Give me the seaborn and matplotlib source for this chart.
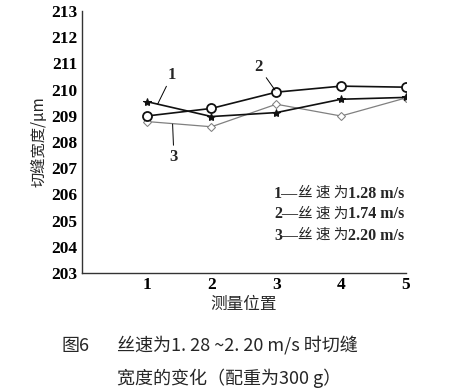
import matplotlib
matplotlib.use('Agg')
import matplotlib.pyplot as plt
import seaborn as sns
import pandas as pd

# measured kerf width (um) at 5 positions, for 3 wire speeds
positions = [1, 2, 3, 4, 5]
width_128 = [209.54, 208.97, 209.12, 209.63, 209.70]
width_174 = [208.99, 209.28, 209.90, 210.13, 210.09]
width_220 = [208.78, 208.58, 209.44, 208.99, 209.68]
speed_labels = ['1.28 m/s', '1.74 m/s', '2.20 m/s']
y_ticks = [203, 204, 205, 206, 207, 208, 209, 210, 211, 212, 213]

sns.set_style('white')
plt.rcParams['font.family'] = ['Liberation Serif', 'Noto Sans CJK SC']
cjk = 'Noto Sans CJK SC'
num = 'Liberation Serif'

df = pd.DataFrame({
    'pos': positions * 3,
    'width': width_128 + width_174 + width_220,
    'series': ['1'] * 5 + ['2'] * 5 + ['3'] * 5,
})

fig = plt.figure(figsize=(4.55, 3.9), dpi=100)
ax = fig.add_axes([0.180, 0.300, 0.712, 0.672])

styles = {
    '1': dict(color='#111111', marker='*', markersize=6, linewidth=1.2,
              markerfacecolor='#111111', markeredgecolor='#111111'),
    '2': dict(color='#111111', marker='o', markersize=6.5, linewidth=1.2,
              markerfacecolor='white', markeredgecolor='#111111', markeredgewidth=1.3),
    '3': dict(color='#808080', marker='D', markersize=4.5, linewidth=0.9,
              markerfacecolor='white', markeredgecolor='#808080'),
}
for key in ['3', '1', '2']:
    sub = df[df['series'] == key]
    sns.lineplot(data=sub, x='pos', y='width', ax=ax, legend=False, **styles[key])

ax.set_xlim(0, 5)
ax.set_ylim(203, 213)
ax.set_xticks(positions)
ax.set_yticks(y_ticks)
ax.set_xticklabels([str(p) for p in positions], fontfamily=num, fontweight='bold', fontsize=12.5)
ax.set_yticklabels([str(t) for t in y_ticks], fontfamily=num, fontweight='bold', fontsize=12.5)
ax.tick_params(axis='both', direction='in', length=3.5, width=0.8, colors='#444444',
               labelcolor='black', pad=3)
for s in ['top', 'right']:
    ax.spines[s].set_visible(False)
for s in ['left', 'bottom']:
    ax.spines[s].set_color('#333333')
    ax.spines[s].set_linewidth(1.0)

ax.set_xlabel('测量位置', fontfamily=cjk, fontsize=12, labelpad=2)
ax.set_ylabel('切缝宽度/μm', fontfamily=[cjk, 'DejaVu Sans'], fontsize=11, labelpad=3)

# curve labels with leader lines
lead = dict(arrowstyle='-', color='black', lw=0.7, shrinkA=0, shrinkB=0)
ax.annotate('1', xy=(1.17, 209.45), xytext=(1.39, 210.25), fontfamily=num, fontweight='bold',
            fontsize=12, ha='center', va='bottom', arrowprops=lead)
ax.annotate('2', xy=(2.98, 209.98), xytext=(2.73, 210.55), fontfamily=num, fontweight='bold',
            fontsize=12, ha='center', va='bottom', arrowprops=lead)
ax.annotate('3', xy=(1.40, 208.68), xytext=(1.42, 207.75), fontfamily=num, fontweight='bold',
            fontsize=12, ha='center', va='top', arrowprops=lead)

# legend as text: "n—丝速为x.xx m/s"
leg_y = [205.85, 205.08, 204.25]
for i, (lab, yy) in enumerate(zip(speed_labels, leg_y)):
    t1 = ax.text(4.98, yy, lab, fontfamily=num, fontweight='bold', fontsize=11.5,
                 ha='right', va='baseline')
    t2 = ax.annotate('丝 速 为', xy=(0, 0), xycoords=t1, xytext=(0, 1.5),
                     textcoords='offset points', fontfamily=cjk, fontsize=10.5,
                     ha='right', va='bottom')
    ax.annotate(f'{i + 1}—', xy=(0, 0), xycoords=t2, xytext=(0, -1.5),
                textcoords='offset points', fontfamily=num, fontweight='bold', fontsize=11.5,
                ha='right', va='bottom')

# caption
fig.text(62 / 455, 1 - 346 / 390, '图6', fontfamily=cjk, fontsize=13, va='center', ha='left')
fig.text(117 / 455, 1 - 346 / 390, '丝速为1. 28 ~2. 20 m/s 时切缝', fontfamily=[cjk, 'DejaVu Sans'],
         fontsize=13, va='center', ha='left')
fig.text(117 / 455, 1 - 378 / 390, '宽度的变化（配重为300 g）', fontfamily=[cjk, 'DejaVu Sans'],
         fontsize=13, va='center', ha='left')

fig.savefig('out.png', dpi=100)
